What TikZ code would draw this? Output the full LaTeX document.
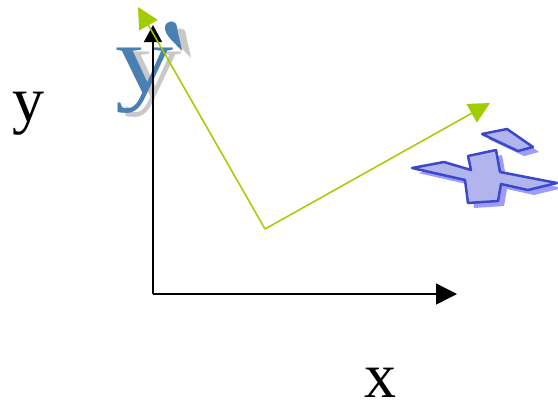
\documentclass[tikz,border=0pt]{standalone}
\usepackage{fontspec}
\setmainfont{Liberation Serif}
\usepackage{graphicx}
\usetikzlibrary{arrows.meta}
\definecolor{gline}{RGB}{160,204,0}
\definecolor{wblue}{RGB}{72,128,180}
\definecolor{wgray}{RGB}{200,200,200}
\definecolor{xline}{RGB}{60,72,204}
\definecolor{xfill}{RGB}{178,180,238}
\definecolor{xshadow}{RGB}{156,156,255}
\tikzset{
  axisline/.style={line width=1.5bp, black},
  greenline/.style={line width=1.5bp, gline, -{Triangle[length=21bp,width=21bp]}},
  bigtext/.style={inner sep=0pt, anchor=base west, text depth=0pt, font=\fontsize{64bp}{70bp}\selectfont},
  wordart/.style={inner sep=0pt, anchor=base west, text depth=0pt, font=\fontsize{97bp}{100bp}\selectfont},
  xshape/.style={draw=xline, fill=xfill, line width=2.5bp, line join=round},
  xshade/.style={fill=xshadow}
}
\begin{document}
\begin{tikzpicture}[x=1bp,y=-1bp]
\useasboundingbox (0,0) rectangle (558,400);

% word-art y'
\node[wordart, text=wgray] (wyshadow) at (123,96) {\scalebox{1.2}[1]{y}};
\fill[wgray] (191,58) .. controls (185,51) and (173,42) .. (174,34) .. controls (175,27) and (185,26) .. (186,34) .. controls (187,42) and (190,51) .. (191,58) -- cycle;
\node[wordart, text=wblue] (wy) at (115,92) {\scalebox{1.2}[1]{y}};
\fill[wblue] (182,51) .. controls (176,44) and (164,35) .. (165,27) .. controls (166,20) and (176,19) .. (177,27) .. controls (178,35) and (181,44) .. (182,51) -- cycle;

% word-art x'
\begin{scope}[shift={(6,5)}]
\fill[xshade] (412,168) -- (444,162) -- (471,170) -- (468,156) -- (496,150) -- (500,172) -- (557,183) -- (528,190) -- (501,184) -- (498,201) -- (468,203) -- (465,180) -- cycle;
\fill[xshade] (482,134) -- (507,129) -- (533,147) -- (518,151) -- cycle;
\end{scope}
\draw[xshape] (412,168) -- (444,162) -- (471,170) -- (468,156) -- (496,150) -- (500,172) -- (557,183) -- (528,190) -- (501,184) -- (498,201) -- (468,203) -- (465,180) -- cycle;
\draw[xshape] (482,134) -- (507,129) -- (533,147) -- (518,151) -- cycle;

% axes
\coordinate (O) at (153,294);
\coordinate (Xend) at (457,294);
\coordinate (Yend) at (153,25);
\draw[axisline, -{Triangle[length=17bp,width=18bp]}] (O) -- (Yend);
\draw[axisline, -{Triangle[length=21bp,width=21bp]}] (O) -- (Xend);

% rotated axes (green)
\coordinate (V) at (265,229);
\coordinate (G1) at (138,7);
\coordinate (G2) at (490,103);
\draw[greenline] (V) -- (G1);
\draw[greenline] (V) -- (G2);

% labels
\node[bigtext] (ylabel) at (12,121) {y};
\node[bigtext] (xlabel) at (364,397) {x};
\end{tikzpicture}
\end{document}
